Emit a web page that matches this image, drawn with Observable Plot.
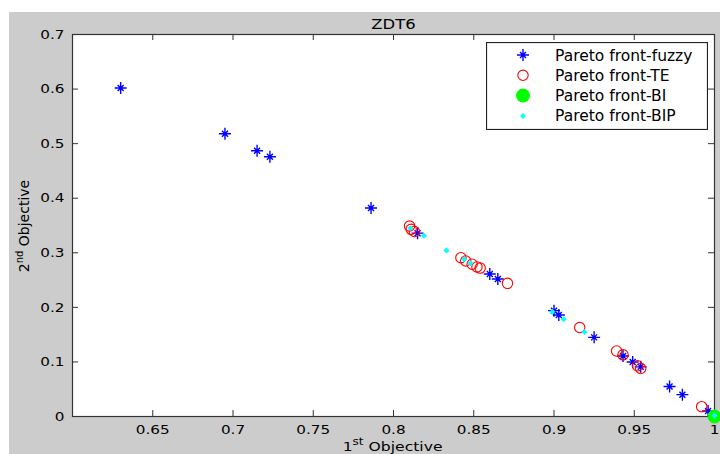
<!DOCTYPE html>
<html>
<head>
<meta charset="utf-8">
<script src="https://cdn.jsdelivr.net/npm/d3@7"></script>
<script src="https://cdn.jsdelivr.net/npm/@observablehq/plot@0.6"></script>
<style>
  body { margin: 0; background: #fff; }
  #fig { position: relative; width: 720px; height: 454px; overflow: hidden;
         font-family: "DejaVu Sans", sans-serif; color: #000; }
  #panel { position: absolute; left: 9px; top: 12px; right: 0; bottom: 0; background: #cccccc; }
  #chart { position: absolute; left: 0; top: 0; }
  .xlabel { position: absolute; left: 72px; width: 642px; top: 439.5px; text-align: center;
            font-size: 13px; line-height: 13px; white-space: nowrap; }
  .xlabel .inner { display: inline-block; transform: scaleX(1.2); }
  .ylabel { position: absolute; width: 200px; left: -74.8px; top: 218px; text-align: center;
            font-size: 14px; line-height: 14px; white-space: nowrap; transform: rotate(-90deg); }
  .sup { position: relative; top: -6px; font-size: 10px; }
  #legend { position: absolute; left: 486px; top: 42px; }
</style>
</head>
<body>
<div id="fig">
  <div id="panel"></div>
  <div id="chart"></div>
  <div class="xlabel"><span class="inner">1<span class="sup">st</span> Objective</span></div>
  <div class="ylabel">2<span class="sup">nd</span> Objective</div>
  <div id="legend"></div>
</div>
<script>
// ZDT6 Pareto fronts obtained by four methods
const title = "ZDT6";

const fuzzyX = [0.630, 0.695, 0.715, 0.723, 0.786, 0.815, 0.860, 0.865, 0.900, 0.903, 0.925, 0.943, 0.949, 0.954, 0.972, 0.980, 0.996];
const fuzzyY = [0.602, 0.518, 0.487, 0.476, 0.382, 0.336, 0.261, 0.252, 0.194, 0.186, 0.145, 0.111, 0.100, 0.091, 0.055, 0.040, 0.010];

const teX = [0.810, 0.811, 0.813, 0.842, 0.845, 0.849, 0.852, 0.854, 0.871, 0.916, 0.939, 0.943, 0.952, 0.954, 0.992];
const teY = [0.349, 0.343, 0.339, 0.291, 0.285, 0.279, 0.274, 0.272, 0.244, 0.163, 0.120, 0.113, 0.093, 0.088, 0.018];

const biX = [1.0];
const biY = [0.0];

const bipX = [0.8105, 0.819, 0.833, 0.844, 0.848, 0.899, 0.906, 0.919, 1.0];
const bipY = [0.345, 0.331, 0.304, 0.288, 0.281, 0.192, 0.178, 0.155, 0.002];

const seriesNames = ["Pareto front-fuzzy", "Pareto front-TE", "Pareto front-BI", "Pareto front-BIP"];

const xTicks = [0.65, 0.7, 0.75, 0.8, 0.85, 0.9, 0.95, 1];
const xTickLabels = ["0.65", "0.7", "0.75", "0.8", "0.85", "0.9", "0.95", "1"];
const yTicks = [0, 0.1, 0.2, 0.3, 0.4, 0.5, 0.6, 0.7];
const yTickLabels = ["0", "0.1", "0.2", "0.3", "0.4", "0.5", "0.6", "0.7"];

const rows = (xs, ys) => xs.map((x, i) => ({x, y: ys[i]}));
const fuzzy = rows(fuzzyX, fuzzyY);
const te = rows(teX, teY);
const bi = rows(biX, biY);
const bip = rows(bipX, bipY);

// asterisk marker: a plus with shorter diagonals
const asterisk = {
  draw(context, size) {
    const r = Math.sqrt(size / Math.PI);
    const d = r * 0.5;
    context.moveTo(-r, 0); context.lineTo(r, 0);
    context.moveTo(0, -r); context.lineTo(0, r);
    context.moveTo(-d, -d); context.lineTo(d, d);
    context.moveTo(-d, d); context.lineTo(d, -d);
  }
};

const width = 720, height = 454;
const marginLeft = 72, marginRight = 6, marginTop = 34, marginBottom = 38;
const innerW = width - marginLeft - marginRight;
const innerH = height - marginTop - marginBottom;
const tickLen = 6;
const axisColor = "#333";

const chart = Plot.plot({
  width, height, marginLeft, marginRight, marginTop, marginBottom,
  style: {background: "transparent", fontFamily: "DejaVu Sans, sans-serif", fontSize: "13px", color: "#000", overflow: "visible"},
  x: {domain: [0.6, 1]},
  y: {domain: [0, 0.7]},
  marks: [
    Plot.frame({fill: "white"}),
    Plot.tickX(xTicks, {x: d => d, insetTop: innerH - tickLen, stroke: axisColor}),
    Plot.tickX(xTicks, {x: d => d, insetBottom: innerH - tickLen, stroke: axisColor}),
    Plot.tickY(yTicks, {y: d => d, insetRight: innerW - tickLen, stroke: axisColor}),
    Plot.tickY(yTicks, {y: d => d, insetLeft: innerW - tickLen, stroke: axisColor}),
    Plot.frame({stroke: axisColor, strokeWidth: 1.2}),
    Plot.axisX({ticks: xTicks, tickSize: 0, tickPadding: 8, label: null,
                tickFormat: d => xTickLabels[xTicks.indexOf(d)]}),
    Plot.axisY({ticks: yTicks, tickSize: 0, tickPadding: 8, label: null,
                tickFormat: d => yTickLabels[yTicks.indexOf(d)]}),
    Plot.dot(fuzzy, {x: "x", y: "y", symbol: asterisk, r: 6, stroke: "#0000ff", fill: "none", strokeWidth: 1.4}),
    Plot.dot(te, {x: "x", y: "y", r: 5.2, stroke: "#ff0000", fill: "none", strokeWidth: 1.1}),
    Plot.dot(bi, {x: "x", y: "y", r: 6.5, fill: "#00ff00", stroke: "#00ff00", strokeWidth: 1}),
    Plot.dot(bip, {x: "x", y: "y", symbol: "diamond2", r: 2.7, fill: "#00ffff", stroke: "none"}),
    Plot.text([title], {frameAnchor: "top", dy: -15, fontSize: 14})
  ]
});
document.getElementById("chart").append(chart);

// widen the tick labels and title glyphs horizontally
chart.querySelectorAll("text").forEach(t => {
  const L = t.getComputedTextLength();
  if (L > 0) {
    t.setAttribute("textLength", (L * 1.17).toFixed(1));
    t.setAttribute("lengthAdjust", "spacingAndGlyphs");
  }
});

// boxed legend
const lw = 222, lh = 88;
const legend = d3.select("#legend").append("svg").attr("width", lw).attr("height", lh);
legend.append("rect").attr("x", 0.5).attr("y", 0.5).attr("width", lw - 1).attr("height", lh - 1)
  .attr("fill", "white").attr("stroke", "#222").attr("stroke-width", 1.2);
const rowY = i => 13 + i * 20.3;
const mx = 37;
const sym = [
  g => g.append("path").attr("d", () => { const p = d3.path(); asterisk.draw(p, Math.PI * 36); return p; })
        .attr("stroke", "#0000ff").attr("stroke-width", 1.4).attr("fill", "none"),
  g => g.append("circle").attr("r", 5.2).attr("fill", "none").attr("stroke", "#ff0000").attr("stroke-width", 1.1),
  g => g.append("circle").attr("r", 7).attr("fill", "#00ff00"),
  g => g.append("path").attr("d", d3.symbol(d3.symbolDiamond2, Math.PI * 2.7 * 2.7)()).attr("fill", "#00ffff")
];
seriesNames.forEach((name, i) => {
  const g = legend.append("g").attr("transform", `translate(${mx},${rowY(i)})`);
  sym[i](g);
  legend.append("text").attr("x", 69).attr("y", rowY(i)).attr("dy", "0.36em")
    .attr("font-family", "DejaVu Sans, sans-serif").attr("font-size", 15.5).attr("fill", "#000")
    .text(name);
});
</script>
</body>
</html>
